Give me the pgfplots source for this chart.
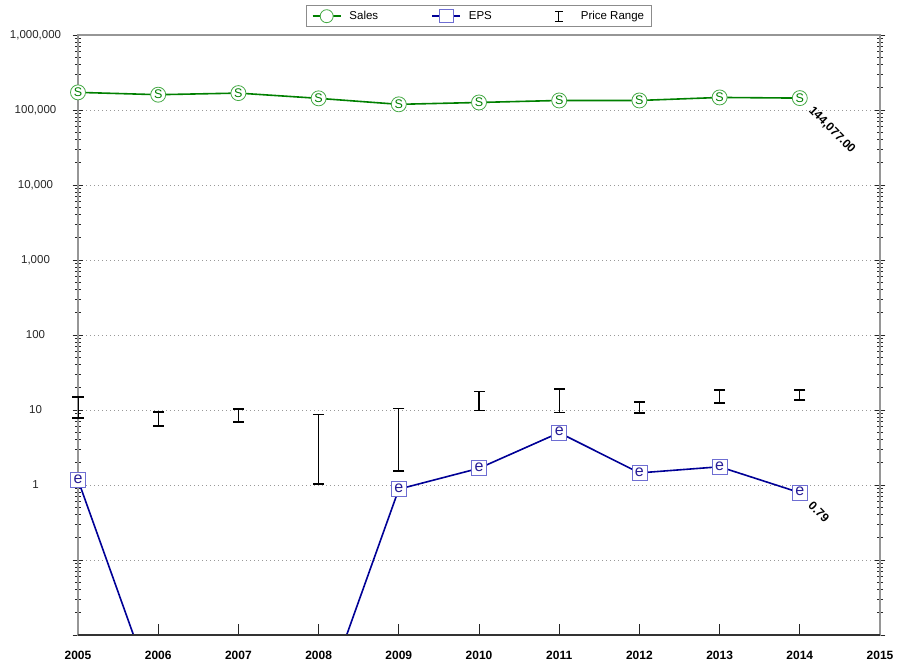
\documentclass[border=0pt]{standalone}
\usepackage{fontspec}
\setmainfont{Liberation Sans}
\usepackage{pgfplots}
\pgfplotsset{compat=1.18}
\definecolor{salesline}{RGB}{0,128,0}
\definecolor{salesmark}{RGB}{70,170,70}
\definecolor{epsline}{RGB}{0,0,150}
\definecolor{epsmark}{RGB}{110,110,210}
\definecolor{epstext}{RGB}{40,30,150}
\definecolor{axgray}{RGB}{150,150,150}
\begin{document}
\begin{tikzpicture}
\begin{axis}[
  scale only axis, width=802bp, height=600bp,
  xmin=2005, xmax=2015, ymode=log, ymin=0.01, ymax=1000000,
  xtick={2005,2006,2007,2008,2009,2010,2011,2012,2013,2014,2015},
  xtick pos=left, xtick align=inside,
  x tick label style={font=\fontsize{12bp}{14bp}\selectfont\bfseries, /pgf/number format/1000 sep={}, /pgf/number format/assume math mode=true, yshift=-13bp},
  ytick={0.01,0.1,1,10,100,1000,10000,100000,1000000},
  yticklabels={,,1,10,100,{1,000},{10,000},{100,000},{1,000,000}},
  ytick pos=both, ytick align=center,
  y tick label style={font=\fontsize{11.5bp}{13bp}\selectfont, text=black!85, anchor=center, xshift=-37bp},
  major tick length=11bp, minor tick length=6bp,
  tick style={black!85, line width=0.8bp},
  axis line style={axgray, line width=1.3bp},
  ymajorgrids,
  major grid style={gray!80, line width=0.8bp, dash pattern=on 1bp off 3bp},
  legend columns=3,
  legend style={at={(0.5,1)}, anchor=south, yshift=8bp, draw=gray!90, line width=0.8bp,
    font=\fontsize{11.5bp}{13bp}\selectfont, inner xsep=5bp, inner ysep=3.5bp,
    /tikz/every odd column/.append style={column sep=6bp},
    /tikz/every even column/.append style={column sep=51bp}},
  legend cell align=left,
]
% Sales
\addplot[salesline, line width=1.6bp, mark=*, mark size=7.5bp,
  mark options={draw=salesmark, fill=white, line width=0.8bp},
  nodes near coords={S},
  every node near coord/.append style={anchor=center, font=\fontsize{12.5bp}{14bp}\selectfont, text=salesline},
  legend image code/.code={
    \draw[salesline, line width=1.6bp] (0bp,0bp) -- (28bp,0bp);
    \draw[salesmark, fill=white, line width=0.8bp] (14bp,0bp) circle (6.5bp);}]
  coordinates {(2005,171800) (2006,160000) (2007,168000) (2008,143000) (2009,119000)
               (2010,126000) (2011,134000) (2012,134000) (2013,147000) (2014,144077)};
\addlegendentry{Sales}
% EPS line
\addplot[epsline, line width=1.6bp, forget plot]
  coordinates {(2005,1.17) (2006,0.0012) (2007,0.001) (2008,0.0009) (2009,0.88)
               (2010,1.67) (2011,4.98) (2012,1.45) (2013,1.75) (2014,0.79)};
% EPS marks (visible points)
\addplot[only marks, mark=square*, mark size=7.5bp,
  mark options={draw=epsmark, fill=white, line width=0.8bp}, forget plot,
  nodes near coords={e},
  every node near coord/.append style={anchor=center, font=\fontsize{16bp}{16bp}\selectfont, text=epstext, yshift=1bp}]
  coordinates {(2005,1.17) (2009,0.88) (2010,1.67) (2011,4.98) (2012,1.45) (2013,1.75) (2014,0.79)};
\addlegendimage{legend image code/.code={
    \draw[epsline, line width=1.6bp] (0bp,0bp) -- (28bp,0bp);
    \draw[epsmark, fill=white, line width=0.8bp] (7bp,-6.5bp) rectangle (21bp,6.5bp);}}
\addlegendentry{EPS}
% Price range
\addplot[black, line width=1.3bp, mark=-, mark size=5.5bp, mark options={line width=1.3bp}, unbounded coords=jump,
  legend image code/.code={
    \path[draw=none] (0bp,0bp) -- (28bp,0bp);
    \draw[black, line width=1.2bp] (14bp,-5bp) -- (14bp,5bp);
    \draw[black, line width=1.2bp] (10bp,5bp) -- (18bp,5bp);
    \draw[black, line width=1.2bp] (10bp,-5bp) -- (18bp,-5bp);}]
  coordinates {(2005,7.8) (2005,14.9) (2005.5,nan)
               (2006,6.1) (2006,9.4) (2006.5,nan)
               (2007,6.9) (2007,10.3) (2007.5,nan)
               (2008,1.03) (2008,8.8) (2008.5,nan)
               (2009,1.54) (2009,10.4) (2009.5,nan)
               (2010,9.9) (2010,17.5) (2010.5,nan)
               (2011,9.2) (2011,19.1) (2011.5,nan)
               (2012,9.1) (2012,12.8) (2012.5,nan)
               (2013,12.4) (2013,18.5) (2013.5,nan)
               (2014,13.6) (2014,18.5)};
\addlegendentry{Price Range}
\draw[black!80, line width=1.1bp] (rel axis cs:0,0) -- (rel axis cs:1,0);
\node[rotate=-45, anchor=west, font=\fontsize{12bp}{14bp}\selectfont\bfseries, inner sep=1bp]
  at ([xshift=10bp,yshift=-10bp]axis cs:2014,144077) {144,077.00};
\node[rotate=-45, anchor=west, font=\fontsize{12bp}{14bp}\selectfont\bfseries, inner sep=1bp]
  at ([xshift=10bp,yshift=-10bp]axis cs:2014,0.79) {0.79};
\end{axis}
\pgfresetboundingbox
\useasboundingbox ([xshift=-78bp,yshift=-29bp]current axis.south west) rectangle ([xshift=23bp,yshift=35bp]current axis.north east);
\end{tikzpicture}
\end{document}
